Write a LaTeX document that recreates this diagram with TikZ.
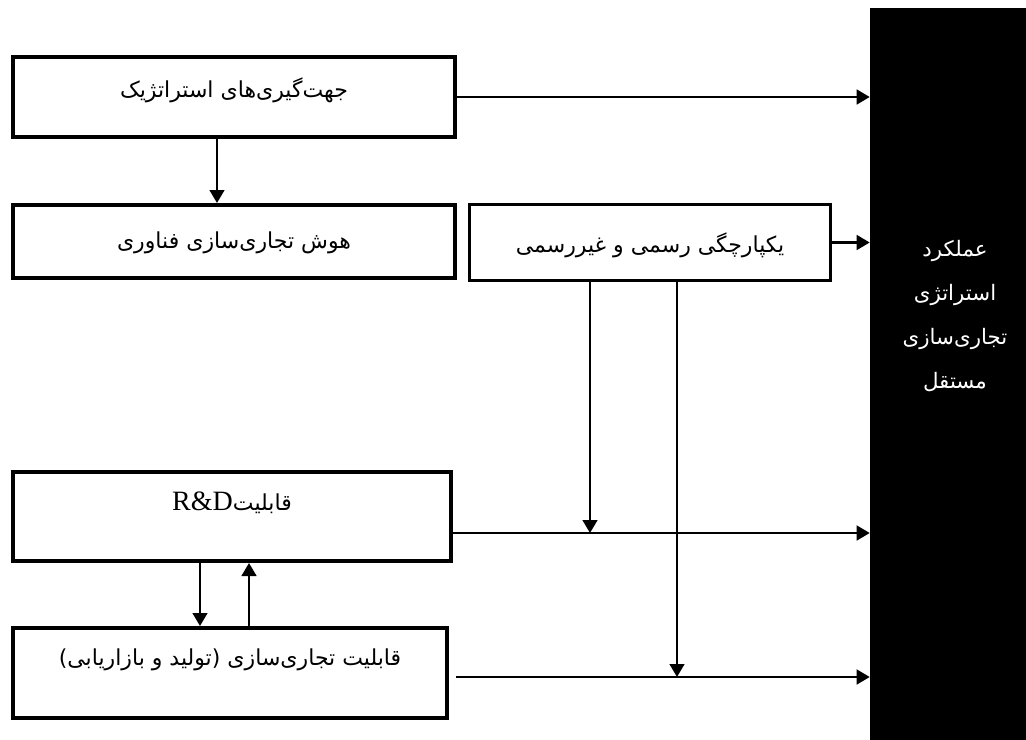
\documentclass[tikz,border=0pt]{standalone}
\usepackage{fontspec}
\usetikzlibrary{arrows.meta}
\TeXXeTstate=1
\newfontfamily\fa[Script=Arabic]{DejaVu Sans}
\newfontfamily\lat{Liberation Serif}
\begin{document}
\begin{tikzpicture}[x=0.75pt,y=-0.75pt,
  boxa/.style={draw=black,line width=3pt,inner sep=0pt,fill=white},
  boxb/.style={draw=black,line width=2.25pt,inner sep=0pt,fill=white},
  lbl/.style={inner sep=0pt,font=\fa\fontsize{16.5}{20}\selectfont},
  conn/.style={line width=1.8pt,draw=black},
  arr/.style={conn,-{Triangle[length=9.75pt,width=11pt]}}]
\useasboundingbox (0,0) rectangle (1026,740);
% performance block
\node[fill=black,draw=none,inner sep=0pt,minimum width=117pt,minimum height=549pt] (perf) at (948,374) {};
\node[lbl,text=white,align=center,font=\fa\fontsize{16}{33}\selectfont] (perft) at (955,316)
  {\beginR عملکرد\endR\\\beginR استراتژی\endR\\\beginR تجاری‌سازی\endR\\\beginR مستقل\endR};
% boxes
\node[boxa,minimum width=331.5pt,minimum height=60pt] (b1) at (234,97) {};
\node[lbl] (b1t) at (234,90) {\beginR جهت‌گیری‌های استراتژیک\endR};
\node[boxa,minimum width=331.5pt,minimum height=54.75pt] (b2) at (234,241.5) {};
\node[lbl] (b2t) at (234,243) {\beginR هوش تجاری‌سازی فناوری\endR};
\node[boxb,minimum width=270.75pt,minimum height=57pt] (b3) at (650,242.5) {};
\node[lbl] (b3t) at (650,245) {\beginR یکپارچگی رسمی و غیررسمی\endR};
\node[boxa,minimum width=328.5pt,minimum height=66.75pt] (b4) at (232,516.5) {};
\node[lbl] (b4t) at (232,503) {\beginR قابلیت\beginL{\lat\fontsize{21}{24}\selectfont R\&D}\endL\endR};
\node[boxa,minimum width=325.5pt,minimum height=67.5pt] (b5) at (230,673) {};
\node[lbl] (b5t) at (230,660) {\beginR قابلیت تجاری‌سازی (تولید و بازاریابی)\endR};
% junction coordinates
\coordinate (j1) at (590,533);
\coordinate (j2) at (677,677);
\coordinate (r4) at (453,533);
\coordinate (r5) at (456,677);
% connectors
\draw[arr] (b1.east) -- (b1.east -| perf.west);
\draw[arr] (b1.south -| 217,0) -- (b2.north -| 217,0);
\draw[arr] (b3.east) -- (b3.east -| perf.west);
\draw[arr] (b3.south -| j1) -- (j1);
\draw[arr] (b3.south -| j2) -- (j2);
\draw[arr] (r4) -- (r4 -| perf.west);
\draw[arr] (r5) -- (r5 -| perf.west);
\draw[arr] (b4.south -| 200,0) -- (b5.north -| 200,0);
\draw[arr] (b5.north -| 249,0) -- (b4.south -| 249,0);
\end{tikzpicture}
\end{document}
